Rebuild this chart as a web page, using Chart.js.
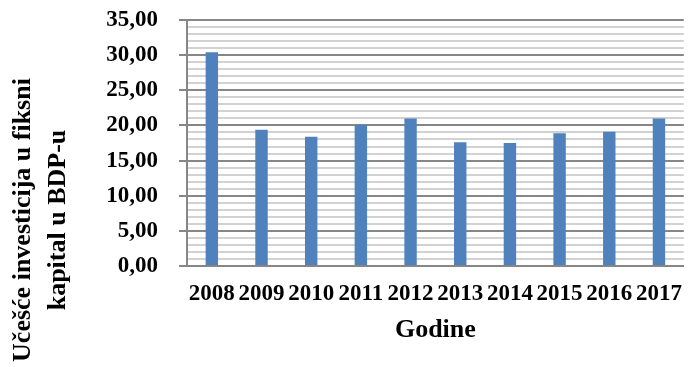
<!DOCTYPE html>
<html>
<head>
<meta charset="utf-8">
<script src="https://cdn.jsdelivr.net/npm/chart.js@4"></script>
<style>
  body { margin: 0; background: #fff; }
  #wrap { width: 688px; height: 367px; }
</style>
</head>
<body>
<div id="wrap"><canvas id="investChart"></canvas></div>
<script>
const years = ['2008', '2009', '2010', '2011', '2012', '2013', '2014', '2015', '2016', '2017'];
const shareValues = [30.4, 19.4, 18.4, 20.1, 21.0, 17.6, 17.5, 18.9, 19.1, 21.0];
const yTitleLines = ['Učešće investicija u fiksni', 'kapital u BDP-u'];
const xTitle = 'Godine';

const serif = '"Liberation Serif", "Times New Roman", serif';

// two-line rotated axis title, placed lower than the plot centre like the original
const yTitlePlugin = {
  id: 'yTitle',
  afterDraw(chart) {
    const ctx = chart.ctx;
    ctx.save();
    ctx.translate(23, 220);
    ctx.rotate(-Math.PI / 2);
    ctx.font = 'bold 26px ' + serif;
    ctx.fillStyle = '#000';
    ctx.textAlign = 'center';
    ctx.textBaseline = 'middle';
    yTitleLines.forEach((line, i) => ctx.fillText(line, 0, i * 35));
    ctx.restore();
  }
};

const isMajor = v => Math.abs(v % 5) < 1e-9;

new Chart(document.getElementById('investChart'), {
  type: 'bar',
  data: {
    labels: years,
    datasets: [{
      label: 'Učešće',
      data: shareValues,
      backgroundColor: '#4F81BD',
      borderWidth: 0,
      barPercentage: 0.25,
      categoryPercentage: 1
    }]
  },
  options: {
    responsive: true,
    maintainAspectRatio: false,
    animation: false,
    layout: { padding: { top: 20, right: 1, bottom: 0, left: 0 } },
    plugins: {
      legend: { display: false },
      tooltip: { enabled: false }
    },
    scales: {
      x: {
        grid: { display: false },
        border: { display: true, color: '#868686', width: 2 },
        ticks: {
          color: '#000',
          font: { family: serif, size: 23, weight: 'bold' },
          padding: 6,
          maxRotation: 0,
          autoSkip: false
        },
        title: {
          display: true,
          text: xTitle,
          color: '#000',
          font: { family: serif, size: 26, weight: 'bold' },
          padding: { top: 0, bottom: 21 }
        },
        afterFit(scale) { scale.height = 101; }
      },
      y: {
        min: 0,
        max: 35,
        grid: {
          color: c => isMajor(c.tick.value) ? '#868686' : '#D2D2D2',
          lineWidth: 2,
          tickColor: c => isMajor(c.tick.value) ? '#868686' : 'rgba(0,0,0,0)',
          tickLength: 8
        },
        border: { display: true, color: '#868686', width: 2 },
        ticks: {
          stepSize: 1,
          maxTicksLimit: 100,
          autoSkip: false,
          padding: 21,
          color: '#000',
          font: { family: serif, size: 23, weight: 'bold' },
          callback: v => isMajor(v) ? v.toFixed(2).replace('.', ',') : ''
        },
        afterFit(scale) {
          scale.width = 187;
          scale.paddingTop = 0;
          scale.paddingBottom = 0;
        }
      }
    }
  },
  plugins: [yTitlePlugin]
});
</script>
</body>
</html>
